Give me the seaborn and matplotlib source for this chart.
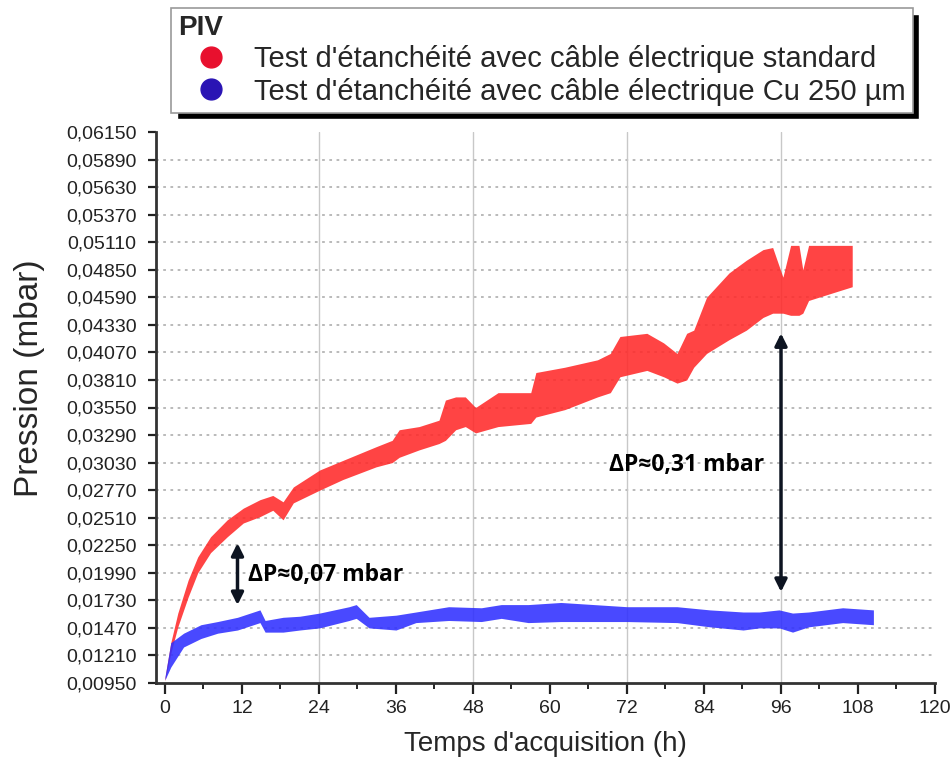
import numpy as np
import pandas as pd
import seaborn as sns
import matplotlib.pyplot as plt
from matplotlib.lines import Line2D
from matplotlib.patches import Rectangle

# ---- data (time in h, pressure envelope in mbar) ----
red_t = [0.0, 0.9, 2.0, 3.6, 5.1, 7.1, 9.7, 12.2, 14.8, 16.8, 18.4, 20.0, 24.1, 27.7,
         32.9, 35.4, 36.5, 39.6, 42.7, 43.7, 45.3, 46.8, 48.4, 51.9, 57.0, 57.8, 62.3,
         67.4, 69.4, 70.9, 75.1, 77.7, 79.8, 81.3, 82.4, 84.4, 87.9, 90.6, 93.2, 94.7,
         96.3, 97.5, 98.8, 99.4, 100.3, 102.9, 107.1]
red_lo = [0.0097, 0.0123, 0.0148, 0.0176, 0.0199, 0.0218, 0.0233, 0.0246, 0.0252, 0.0258,
          0.0249, 0.0265, 0.0277, 0.0287, 0.0299, 0.0303, 0.0308, 0.0315, 0.0321, 0.0324,
          0.0334, 0.0337, 0.0331, 0.0337, 0.0340, 0.0346, 0.0353, 0.0365, 0.0369, 0.0384,
          0.0390, 0.0384, 0.0378, 0.0381, 0.0393, 0.0406, 0.0419, 0.0428, 0.0440, 0.0444,
          0.0444, 0.0442, 0.0442, 0.0444, 0.0456, 0.0461, 0.0469]
red_hi = [0.0100, 0.0133, 0.0161, 0.0192, 0.0214, 0.0233, 0.0249, 0.0260, 0.0268, 0.0272,
          0.0266, 0.0280, 0.0296, 0.0305, 0.0318, 0.0324, 0.0334, 0.0337, 0.0343, 0.0362,
          0.0365, 0.0365, 0.0355, 0.0369, 0.0369, 0.0388, 0.0393, 0.0400, 0.0406, 0.0422,
          0.0425, 0.0416, 0.0406, 0.0425, 0.0428, 0.0459, 0.0482, 0.0494, 0.0504, 0.0506,
          0.0478, 0.0508, 0.0508, 0.0485, 0.0508, 0.0508, 0.0508]

blue_t = [0.0, 0.9, 2.9, 5.6, 8.2, 11.3, 14.8, 15.6, 18.4, 21.0, 24.1, 28.7, 29.8, 31.8,
          36.0, 39.1, 44.2, 49.3, 52.4, 56.6, 61.7, 72.0, 79.8, 84.9, 90.1, 92.6, 95.7,
          97.8, 100.3, 105.6, 110.4]
blue_lo = [0.0098, 0.0110, 0.0129, 0.0137, 0.0142, 0.0145, 0.0152, 0.0143, 0.0143, 0.0145,
           0.0147, 0.0154, 0.0156, 0.0147, 0.0145, 0.0152, 0.0154, 0.0153, 0.0156, 0.0152,
           0.0153, 0.0153, 0.0152, 0.0148, 0.0145, 0.0147, 0.0147, 0.0143, 0.0148, 0.0152,
           0.0150]
blue_hi = [0.0101, 0.0133, 0.0142, 0.0150, 0.0153, 0.0157, 0.0164, 0.0154, 0.0157, 0.0158,
           0.0161, 0.0167, 0.0169, 0.0157, 0.0159, 0.0162, 0.0167, 0.0166, 0.0169, 0.0169,
           0.0171, 0.0167, 0.0167, 0.0164, 0.0162, 0.0162, 0.0164, 0.0161, 0.0162, 0.0166,
           0.0164]

labels = ["Test d'étanchéité avec câble électrique standard",
          "Test d'étanchéité avec câble électrique Cu 250 µm"]
yticks = [0.0095 + 0.0026 * i for i in range(21)]
xticks = list(range(0, 121, 12))

# long form: two rows per time step (lower / upper edge of the noisy band)
frames = []
for lab, t, lo, hi in [(labels[0], red_t, red_lo, red_hi), (labels[1], blue_t, blue_lo, blue_hi)]:
    frames.append(pd.DataFrame({'t': t + t, 'p': lo + hi, 'serie': lab}))
df = pd.concat(frames, ignore_index=True)

sns.set_style('white')
plt.rcParams['font.family'] = ['Liberation Sans', 'DejaVu Sans']

fig = plt.figure(figsize=(9.53, 7.6), dpi=100)
ax = fig.add_axes([156 / 953, 1 - 683 / 760, 779 / 953, 551 / 760])

palette = {labels[0]: '#ff2a2a', labels[1]: '#3030ff'}
sns.lineplot(data=df, x='t', y='p', hue='serie', palette=palette,
             estimator='mean', errorbar=('pi', 100), linewidth=0,
             err_kws={'alpha': 0.88, 'linewidth': 0}, legend=False, ax=ax)

# grid
for v in yticks[1:-1]:
    ax.axhline(v, color='#b4b4b4', lw=1.3, ls=(0, (1.5, 2.5)), zorder=0)
for v in [24, 48, 72, 96]:
    ax.axvline(v, color='#c8c8c8', lw=1.0, zorder=0)

# axes
ax.set_xlim(-1.4, 120)
ax.set_ylim(0.0095, 0.0615)
ax.set_yticks(yticks)
ax.set_yticklabels([f'{v:.5f}'.replace('.', ',') for v in yticks])
ax.set_xticks(xticks)
ax.set_xticks(list(range(6, 120, 12)), minor=True)
ax.tick_params(axis='both', which='major', labelsize=14, colors='#222222',
               direction='out', width=1.6, length=6, left=True, bottom=True)
ax.tick_params(axis='y', which='major', pad=8)
ax.tick_params(axis='x', which='major', length=8, pad=4)
ax.tick_params(axis='x', which='minor', length=4, width=1.4, bottom=True, colors='#222222')
for s in ['top', 'right']:
    ax.spines[s].set_visible(False)
for s in ['left', 'bottom']:
    ax.spines[s].set_color('#333333')
    ax.spines[s].set_linewidth(2)
ax.set_xlabel("Temps d'acquisition (h)", fontsize=20, labelpad=10)
ax.set_ylabel('Pression (mbar)', fontsize=24)
ax.yaxis.set_label_coords(-0.142, 0.553)

# delta P annotations
arrow = dict(arrowstyle='<|-|>', color='#0d1421', lw=2.5, mutation_scale=18, shrinkA=0, shrinkB=0)
ax.annotate('', xy=(11.3, 0.01686), xytext=(11.3, 0.0227), arrowprops=arrow)
ax.annotate('', xy=(96.0, 0.0181), xytext=(96.0, 0.0425), arrowprops=arrow)
tfont = dict(family=['Open Sans', 'DejaVu Sans'], weight='bold', fontsize=16.5, color='black')
ax.text(13.0, 0.0197, 'ΔP≈0,07 mbar', ha='left', va='center', **tfont)
ax.text(69.2, 0.0301, 'ΔP≈0,31 mbar', ha='left', va='center', **tfont)

# legend with hard black shadow
handles = [Line2D([], [], marker='o', ls='', color='#e8102e', markersize=15),
           Line2D([], [], marker='o', ls='', color='#2a14b4', markersize=15)]
leg = fig.legend(handles, labels, title='PIV', loc='upper left', bbox_to_anchor=(0.179, 0.99),
                 fontsize=21, title_fontproperties={'weight': 'bold', 'size': 20},
                 alignment='left', frameon=True, fancybox=False, edgecolor='#9a9a9a',
                 framealpha=1, handlelength=2.3, handletextpad=0.3, labelspacing=0.15,
                 borderpad=0.25, borderaxespad=0)
leg.get_frame().set_linewidth(1.2)
fig.canvas.draw()
bb = leg.get_window_extent().transformed(fig.transFigure.inverted())
fig.patches.append(Rectangle((bb.x0 + 6 / 953, bb.y0 - 6 / 760), bb.width, bb.height,
                             transform=fig.transFigure, facecolor='black', zorder=4))
leg.set_zorder(5)

fig.savefig('out.png', dpi=100)
